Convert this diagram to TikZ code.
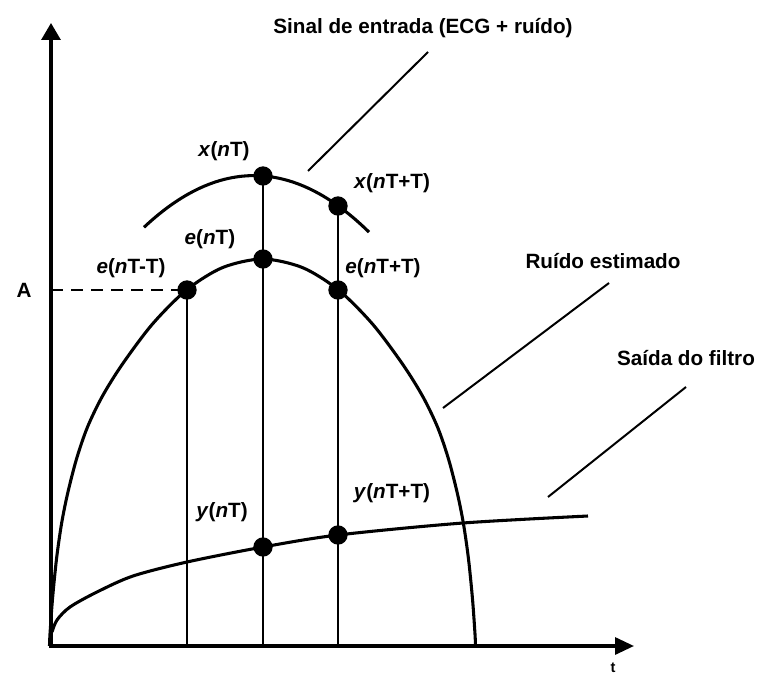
\documentclass[tikz,border=0pt]{standalone}
\usepackage{fontspec}
\setmainfont{Liberation Sans}
\usetikzlibrary{arrows.meta}
\begin{document}
\begin{tikzpicture}[x=0.75pt,y=-0.75pt,
  lbl/.style={font=\fontsize{15.5}{18}\selectfont\bfseries, inner sep=0pt},
  small/.style={font=\fontsize{11}{13}\selectfont\bfseries, inner sep=0pt},
  dotnode/.style={circle, fill=black, inner sep=0pt, minimum size=14.5pt},
  axisline/.style={line width=2.4pt, line join=miter},
  curveline/.style={line width=2.3pt, line join=round},
  vline/.style={line width=2pt},
  leader/.style={line width=1.5pt},
  dashline/.style={line width=2.2pt, dash pattern=on 9pt off 6pt},
]
\useasboundingbox (0,0) rectangle (757,674);
% axes
\coordinate (O) at (51,646);
\coordinate (ytip) at (51,23);
\coordinate (xtip) at (634,646);
\draw[axisline, {Triangle[length=12.75pt,width=14.25pt]}-{Triangle[length=14.25pt,width=12.75pt]}] (ytip) -- (O) -- (xtip);
% input signal curve
\draw[curveline] plot[domain=144:369, samples=60] (\x, {175.6+0.00427*(\x-254)^2});
% estimated noise curve
\draw[curveline] plot[smooth] coordinates {(49.5,646) (50,634) (52.5,599) (56.5,559) (61.5,524) (67.5,494) (76.5,459) (87.5,427) (102.5,396) (122.5,364) (152.5,324) (186.5,290) (222.5,267.6) (262.5,259) (302.5,267.6) (338.5,290) (372.5,324) (402.5,364) (422.5,396) (437.5,427) (448.5,459) (457.5,494) (463.5,524) (468.5,559) (472.5,599) (475,634) (475.5,646)};
% filter output curve
\draw[curveline] plot[smooth] coordinates {(52,632) (57,620) (70,607) (97,592) (133,576) (187,562) (263,547) (338,535) (463,523) (588,516)};
% dots
\node[dotnode] (xn) at (263,176) {};
\node[dotnode] (xn1) at (338,206) {};
\node[dotnode] (en) at (263,259) {};
\node[dotnode] (en1) at (338,290) {};
\node[dotnode] (enm) at (187,290) {};
\node[dotnode] (yn) at (263,547) {};
\node[dotnode] (yn1) at (338,535) {};
% vertical lines
\draw[vline] (xn.center) -- (xn.center |- O);
\draw[vline] (xn1.center) -- (xn1.center |- O);
\draw[vline] (enm.center) -- (enm.center |- O);
% dashed level line
\coordinate (Alev) at (51,290);
\draw[dashline] (Alev) -- (enm.center);
% leader lines
\coordinate (s1) at (308,171); \coordinate (s2) at (428,52);
\coordinate (r1) at (443,408); \coordinate (r2) at (609,283);
\coordinate (f1) at (548,497); \coordinate (f2) at (686,387);
\draw[leader] (s1) -- (s2);
\draw[leader] (r1) -- (r2);
\draw[leader] (f1) -- (f2);
% labels
\node[lbl] (tsinal) at (423,28) {Sinal de entrada (ECG + ruído)};
\node[lbl] (truido) at (603,261) {Ruído estimado};
\node[lbl] (tsaida) at (686,358) {Saída do filtro};
\node[lbl] (tA) at (24,290) {A};
\node[small] (tt) at (613,668) {t};
\node[lbl] (lxn) at (224,151) {\textit{x}(\textit{n}T)};
\node[lbl] (lxn1) at (392,183) {\textit{x}(\textit{n}T+T)};
\node[lbl] (len) at (210,239) {\textit{e}(\textit{n}T)};
\node[lbl] (len1) at (383,268) {\textit{e}(\textit{n}T+T)};
\node[lbl] (lenm) at (131,268) {\textit{e}(\textit{n}T-T)};
\node[lbl] (lyn) at (222,512) {\textit{y}(\textit{n}T)};
\node[lbl] (lyn1) at (392,493) {\textit{y}(\textit{n}T+T)};
\end{tikzpicture}
\end{document}
